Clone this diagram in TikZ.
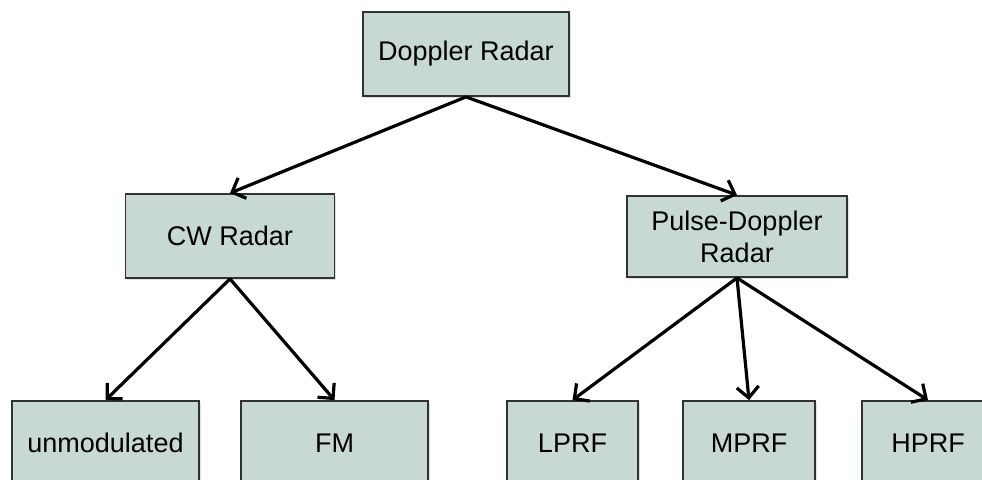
\documentclass[tikz,border=0pt]{standalone}
\usepackage{fontspec}
\setmainfont{Liberation Sans}
\usetikzlibrary{arrows.meta,positioning,shadows}
\definecolor{boxfill}{RGB}{200,216,212}
\definecolor{boxline}{RGB}{50,50,50}

\begin{document}
\begin{tikzpicture}[x=1pt, y=-1pt,
    box/.style={draw=boxline, line width=1.8pt, fill=boxfill, minimum height=84pt,
        inner sep=0pt, align=center, font=\fontsize{27}{32}\selectfont,
        drop shadow={opacity=0.25, shadow xshift=1.5pt, shadow yshift=-1.5pt}},
    arr/.style={-{Straight Barb[length=11pt, width=22pt]}, line width=3.2pt}]
                        \clip (0,0) rectangle (982,479);
                        \node[box, minimum width=206pt] (dop) at (466, 54) {Doppler Radar};
                        \node[box, minimum width=209pt] (cw) at (230, 236) {CW Radar};
                        \node[box, minimum width=220pt, minimum height=81pt] (pd) at (737, 236.5) {Pulse-Doppler\\Radar};
                        \node[box, minimum width=187pt] (unmod) at (105.5, 443) {unmodulated};
                        \node[box, minimum width=187pt] (fm) at (334.5, 443) {FM};
                        \node[box, minimum width=131pt] (lprf) at (572.5, 443) {LPRF};
                        \node[box, minimum width=132pt] (mprf) at (749, 443) {MPRF};
                        \node[box, minimum width=132pt] (hprf) at (928, 443) {HPRF};

                        \draw[arr] (dop.south) -- (cw.north);
                        \draw[arr] (dop.south) -- (pd.north);
                        \draw[arr] (cw.south) -- (unmod.north);
                        \draw[arr] (cw.south) -- (fm.north);
                        \draw[arr] (pd.south) -- (lprf.north);
                        \draw[arr] (pd.south) -- (mprf.north);
                        \draw[arr] (pd.south) -- (hprf.north);
                    \end{tikzpicture}
\end{document}
